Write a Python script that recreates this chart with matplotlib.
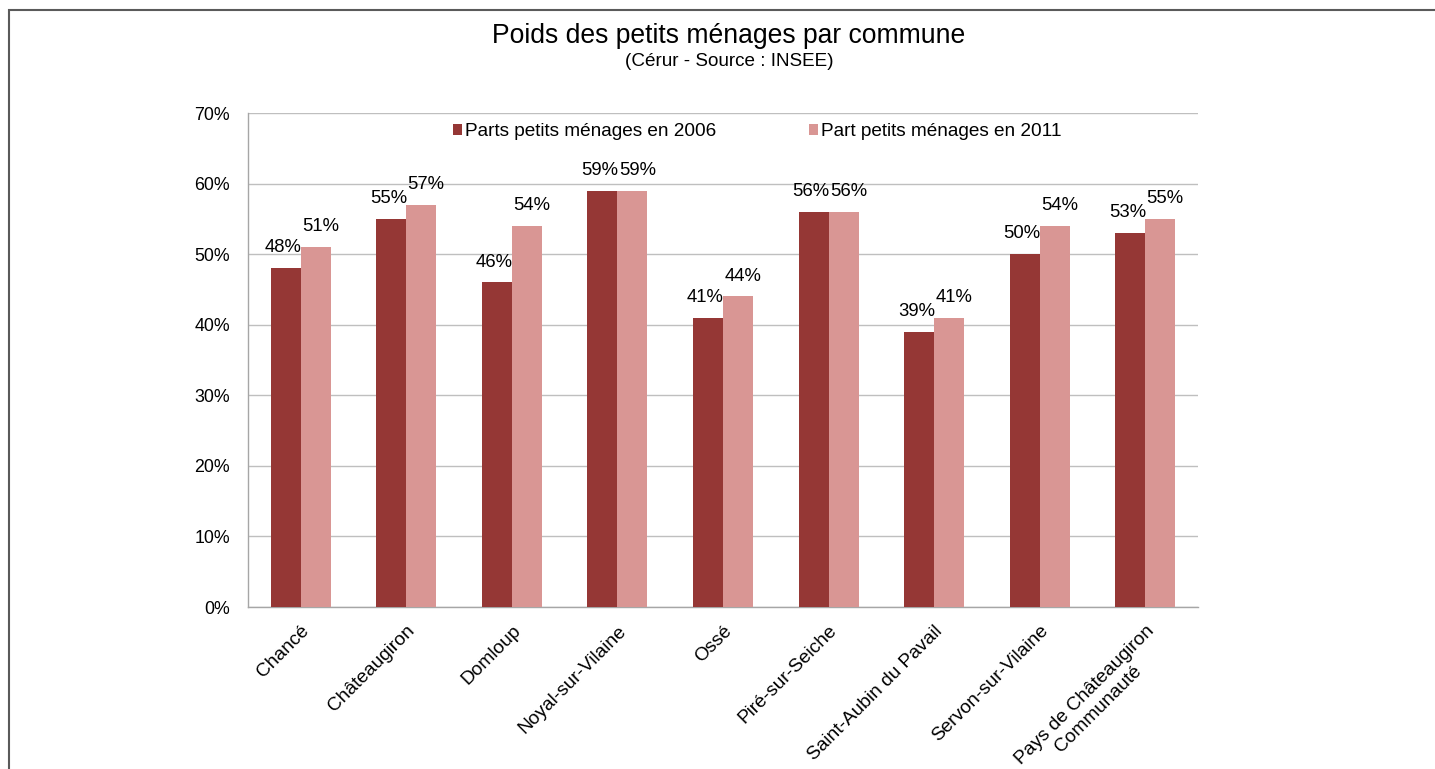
import matplotlib
matplotlib.use("Agg")
import matplotlib.pyplot as plt
from matplotlib.patches import Rectangle
from matplotlib.ticker import FuncFormatter
import numpy as np

plt.rcParams['font.family'] = ['Liberation Sans', 'DejaVu Sans']

communes = ["Chancé", "Châteaugiron", "Domloup", "Noyal-sur-Vilaine", "Ossé",
            "Piré-sur-Seiche", "Saint-Aubin du Pavail", "Servon-sur-Vilaine",
            "Pays de Châteaugiron\nCommunauté"]
part_2006 = [48, 55, 46, 59, 41, 56, 39, 50, 53]
part_2011 = [51, 57, 54, 59, 44, 56, 41, 54, 55]
series_labels = ["Parts petits ménages en 2006", "Part petits ménages en 2011"]
yticks = [0, 10, 20, 30, 40, 50, 60, 70]

c_dark = "#953735"
c_light = "#D99694"

fig = plt.figure(figsize=(14.35, 7.69), dpi=100)
fig.patch.set_facecolor("white")

# outer chart border
fig.patches.append(Rectangle((9 / 1435, -0.05), 1.1, 1 - 10 / 769 + 0.05,
                             transform=fig.transFigure, fill=False,
                             edgecolor="#5a5a5a", linewidth=1.5, zorder=0))

ax = fig.add_axes([248 / 1435, 1 - 607 / 769, (1198 - 248) / 1435, (607 - 113) / 769])

x = np.arange(len(communes))
w = 0.284
b1 = ax.bar(x - w / 2, part_2006, w, color=c_dark, label=series_labels[0], zorder=3)
b2 = ax.bar(x + w / 2, part_2011, w, color=c_light, label=series_labels[1], zorder=3)

for bars, vals, dx in ((b1, part_2006, -2.0), (b2, part_2011, 3.5)):
    for rect, v in zip(bars, vals):
        ax.annotate(f"{v}%", (rect.get_x() + rect.get_width() / 2, rect.get_height()),
                    xytext=(dx, 8.5), textcoords="offset points",
                    ha="center", va="bottom", fontsize=13.3, color="black")

ax.set_xlim(-0.5, len(communes) - 0.5)
ax.set_ylim(0, 70)
ax.set_yticks(yticks)
ax.yaxis.set_major_formatter(FuncFormatter(lambda v, p: f"{int(v)}%"))
ax.grid(axis="y", color="#BFBFBF", linewidth=1, zorder=0)
ax.set_axisbelow(True)
for s in ("top", "right"):
    ax.spines[s].set_visible(False)
for s in ("left", "bottom"):
    ax.spines[s].set_color("#A6A6A6")
    ax.spines[s].set_linewidth(1)
ax.tick_params(axis="y", length=0, labelsize=12.8, pad=13)
ax.tick_params(axis="x", length=0, labelsize=13.8, pad=11)
ax.set_xticks(x)
ax.set_xticklabels(communes, rotation=45, ha="right", va="top",
                   rotation_mode="anchor", multialignment="center")

leg = ax.legend(loc="upper center", bbox_to_anchor=(0.536, 1.0), ncol=2, frameon=False,
                fontsize=13.7, handlelength=0.48, handleheight=0.48, handletextpad=0.12,
                columnspacing=4.9, borderaxespad=0.15)

fig.text(0.508, 1 - 36 / 769, "Poids des petits ménages par commune", ha="center",
         va="center", fontsize=19.1)
fig.text(0.508, 1 - 62 / 769, "(Cérur - Source : INSEE)", ha="center", va="center",
         fontsize=13.6)

fig.savefig("out.png", dpi=100)
